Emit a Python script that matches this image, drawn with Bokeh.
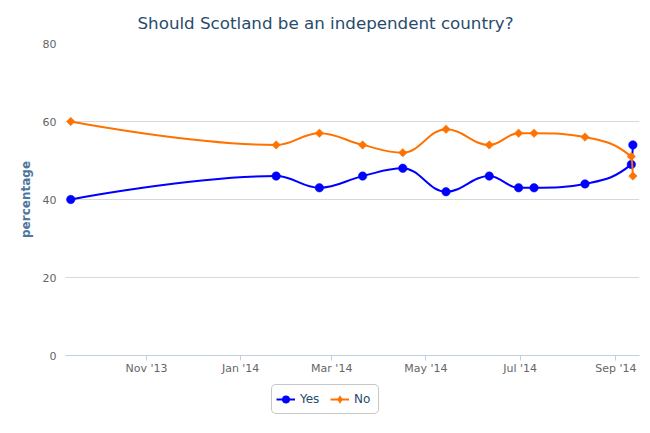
import math
import pandas as pd
from bokeh.plotting import figure
from bokeh.layouts import column
from bokeh.models import Range1d, FixedTicker, DatetimeTickFormatter, Legend, LegendItem
from bokeh.embed import file_html
from bokeh.resources import INLINE

# ---- data ----
poll_dates = ["2013-09-13", "2014-01-24", "2014-02-21", "2014-03-21", "2014-04-16",
              "2014-05-14", "2014-06-11", "2014-06-30", "2014-07-10", "2014-08-12",
              "2014-09-11", "2014-09-12"]
yes_values = [40, 46, 43, 46, 48, 42, 46, 43, 43, 44, 49, 54]
no_values = [60, 54, 57, 54, 52, 58, 54, 57, 57, 56, 51, 46]
x_tick_dates = ["2013-11-01", "2014-01-01", "2014-03-01", "2014-05-01", "2014-07-01", "2014-09-01"]
y_ticks = [0, 20, 40, 60, 80]
x_start, x_end = "2013-09-09 14:00", "2014-09-16 07:00"

TITLE = "Should Scotland be an independent country?"
BLUE = "#0000FF"
ORANGE = "#FF7200"
FONT = "DejaVu Sans"


def to_ms(ds):
    return [pd.Timestamp(d).value / 1e6 for d in ds]


def spline_segments(xs, ys, smoothing=1.5):
    """Highcharts-style spline control points."""
    n = len(xs)
    denom = smoothing + 1
    left = [None] * n
    right = [None] * n
    for i in range(1, n - 1):
        px, py = xs[i], ys[i]
        lx, ly = xs[i - 1], ys[i - 1]
        nx, ny = xs[i + 1], ys[i + 1]
        lcx = (smoothing * px + lx) / denom
        lcy = (smoothing * py + ly) / denom
        rcx = (smoothing * px + nx) / denom
        rcy = (smoothing * py + ny) / denom
        if rcx != lcx:
            corr = (rcy - lcy) * (rcx - px) / (rcx - lcx) + py - rcy
            lcy += corr
            rcy += corr
        if lcy > ly and lcy > py:
            lcy = max(ly, py); rcy = 2 * py - lcy
        elif lcy < ly and lcy < py:
            lcy = min(ly, py); rcy = 2 * py - lcy
        if rcy > ny and rcy > py:
            rcy = max(ny, py); lcy = 2 * py - rcy
        elif rcy < ny and rcy < py:
            rcy = min(ny, py); lcy = 2 * py - rcy
        left[i] = (lcx, lcy)
        right[i] = (rcx, rcy)
    seg = dict(x0=[], y0=[], x1=[], y1=[], cx0=[], cy0=[], cx1=[], cy1=[])
    for i in range(1, n):
        c0 = right[i - 1] or (xs[i - 1], ys[i - 1])
        c1 = left[i] or (xs[i], ys[i])
        seg["x0"].append(xs[i - 1]); seg["y0"].append(ys[i - 1])
        seg["x1"].append(xs[i]); seg["y1"].append(ys[i])
        seg["cx0"].append(c0[0]); seg["cy0"].append(c0[1])
        seg["cx1"].append(c1[0]); seg["cy1"].append(c1[1])
    return seg


xs = to_ms(poll_dates)

# ---------------- main chart ----------------
p = figure(width=645, height=380, x_axis_type="datetime",
           x_range=Range1d(*to_ms([x_start, x_end])), y_range=Range1d(0, 80),
           output_backend="svg", toolbar_location=None,
           min_border_left=65, min_border_right=6, min_border_top=43, min_border_bottom=25)
p.outline_line_color = None
p.background_fill_color = "white"
p.border_fill_color = "white"

p.title.text = TITLE
p.title.text_font = FONT
p.title.text_font_size = "16.7px"
p.title.text_font_style = "normal"
p.title.text_color = "#274b6d"
p.title.align = "left"
p.title.offset = 72
p.title.standoff = 21

p.xgrid.grid_line_color = None
p.ygrid.grid_line_color = "#D8D8D8"
p.ygrid.grid_line_width = 1

p.yaxis.ticker = FixedTicker(ticks=y_ticks)
p.yaxis.axis_line_color = None
p.yaxis.major_tick_line_color = None
p.yaxis.major_tick_out = 0
p.yaxis.major_tick_in = 0
p.yaxis.minor_tick_line_color = None
p.yaxis.major_label_text_color = "#666666"
p.yaxis.major_label_text_font = FONT
p.yaxis.major_label_text_font_size = "11px"
p.yaxis.major_label_standoff = 9
p.yaxis.axis_label = "percentage"
p.yaxis.axis_label_text_color = "#4d759e"
p.yaxis.axis_label_text_font = FONT
p.yaxis.axis_label_text_font_size = "12px"
p.yaxis.axis_label_text_font_style = "bold"
p.yaxis.axis_label_standoff = 7

p.xaxis.ticker = FixedTicker(ticks=to_ms(x_tick_dates))
fmt = "%b '%y"
p.xaxis.formatter = DatetimeTickFormatter(microseconds=fmt, milliseconds=fmt, seconds=fmt,
                                          minsec=fmt, minutes=fmt, hourmin=fmt, hours=fmt,
                                          days=fmt, months=fmt, years=fmt)
p.xaxis.axis_line_color = "#C0D0E0"
p.xaxis.major_tick_line_color = "#C0D0E0"
p.xaxis.minor_tick_line_color = None
p.xaxis.major_tick_out = 5
p.xaxis.major_tick_in = 0
p.xaxis.major_label_text_color = "#666666"
p.xaxis.major_label_text_font = FONT
p.xaxis.major_label_text_font_size = "11px"
p.xaxis.major_label_standoff = 1

series = [("Yes", yes_values, BLUE, "circle", 8.5, 0.0, "circle"),
          ("No", no_values, ORANGE, "square", 6, math.pi / 4, "diamond")]

for name, vals, color, marker, size, angle, _ in series:
    seg = spline_segments(xs, vals)
    p.bezier(source=seg, x0="x0", y0="y0", x1="x1", y1="y1",
             cx0="cx0", cy0="cy0", cx1="cx1", cy1="cy1",
             line_color=color, line_width=2, line_cap="round")
    p.scatter(x=xs, y=vals, marker=marker, size=size, angle=angle,
              fill_color=color, line_color=color, line_width=0.5)

# ---------------- legend strip (its frame is aligned with the chart's frame) ----------------
lg = figure(width=645, height=48, x_range=Range1d(*to_ms([x_start, x_end])),
            y_range=Range1d(100, 110),  # series sit outside this strip; only their legend shows
            output_backend="svg", toolbar_location=None,
            x_axis_location=None, y_axis_location=None,
            min_border_left=0, min_border_right=0, min_border_top=0, min_border_bottom=0)
lg.outline_line_color = None
lg.grid.visible = False
lg.border_fill_color = "white"
lg.background_fill_color = "white"

items = []
for name, vals, color, marker, size, angle, leg_marker in series:
    l_line = lg.line(x=xs, y=vals, line_color=color, line_width=2)
    l_pt = lg.scatter(x=xs, y=vals, marker=leg_marker, fill_color=color, line_color=color,
                      line_width=0.5)
    items.append(LegendItem(label=name, renderers=[l_line, l_pt]))

legend = Legend(items=items, location=(206, 14), orientation="horizontal",
                border_line_color="#909090", border_line_width=1, border_radius=5,
                background_fill_color="white", background_fill_alpha=1,
                padding=4, spacing=10, margin=0, glyph_width=19, glyph_height=20,
                label_height=14, label_standoff=5,
                label_text_font=FONT, label_text_font_size="12px",
                label_text_color="#274b6d")
lg.add_layout(legend)

layout = column(p, lg, spacing=0)
open("out.html", "w").write(file_html(layout, INLINE))
